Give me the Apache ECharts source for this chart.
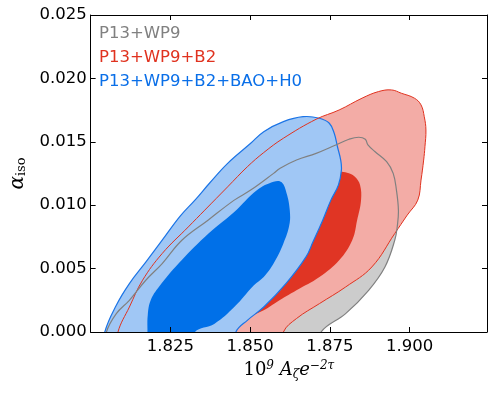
<!DOCTYPE html>
<html>
<head>
<meta charset="utf-8">
<script src="https://cdn.jsdelivr.net/npm/echarts@6/dist/echarts.min.js"></script>
<style>
html, body { margin: 0; padding: 0; background: #fff; }
#main { width: 496px; height: 396px; }
</style>
</head>
<body>
<div id="main"></div>
<script>
// contours: [1e9 A e^-2tau, alpha_iso]
var grayOuter = [[1.80496,0],[1.80805,0.00145],[1.81215,0.00250],[1.81729,0.00408],[1.82244,0.00540],[1.82861,0.00724],[1.83681,0.00882],[1.84504,0.01040],[1.85019,0.01119],[1.85737,0.01251],[1.85943,0.01291],[1.86455,0.01356],[1.87072,0.01409],[1.87688,0.01475],[1.88101,0.01520],[1.88409,0.01536],[1.88613,0.01520],[1.88696,0.01475],[1.88921,0.01422],[1.89282,0.01343],[1.89488,0.01251],[1.89590,0.01119],[1.89652,0.00961],[1.89621,0.00843],[1.89538,0.00724],[1.89229,0.00513],[1.88718,0.00329],[1.87996,0.00145],[1.87226,0]];
var redOuter = [[1.80857,0],[1.81215,0.00197],[1.81628,0.00408],[1.82244,0.00619],[1.83064,0.00829],[1.83579,0.00961],[1.84297,0.01145],[1.84914,0.01303],[1.85428,0.01415],[1.86045,0.01528],[1.87072,0.01678],[1.87793,0.01751],[1.88511,0.01844],[1.89026,0.01896],[1.89436,0.01909],[1.89744,0.01883],[1.90154,0.01844],[1.90361,0.01791],[1.90463,0.01698],[1.90515,0.01593],[1.90484,0.01461],[1.90444,0.01356],[1.90361,0.01198],[1.90259,0.01040],[1.89929,0.00922],[1.89538,0.00777],[1.88819,0.00513],[1.87996,0.00355],[1.87176,0.00224],[1.86455,0.00106],[1.86045,0]];
var redInner = [[1.84843,0.00108],[1.85428,0.00171],[1.85838,0.00237],[1.86455,0.00329],[1.87176,0.00434],[1.87793,0.00566],[1.88203,0.00724],[1.88357,0.00882],[1.88480,0.01040],[1.88449,0.01159],[1.88295,0.01222],[1.88101,0.01251],[1.87833,0.01264],[1.87586,0.01238],[1.87278,0.01040],[1.86662,0.00645],[1.85737,0.00329],[1.84966,0.00132]];
var blueOuter = [[1.80444,0],[1.80805,0.00211],[1.81215,0.00382],[1.81729,0.00551],[1.82244,0.00724],[1.82808,0.00914],[1.83271,0.01040],[1.83733,0.01175],[1.84297,0.01330],[1.85019,0.01488],[1.85428,0.01580],[1.86045,0.01659],[1.86662,0.01698],[1.87176,0.01686],[1.87485,0.01646],[1.87639,0.01567],[1.87740,0.01461],[1.87842,0.01356],[1.87864,0.01277],[1.87771,0.01159],[1.87534,0.01040],[1.87278,0.00882],[1.86970,0.00709],[1.86754,0.00592],[1.86137,0.00385],[1.85428,0.00197],[1.84914,0.00092],[1.84556,0]];
var blueInner = [[1.81782,0],[1.81791,0.00132],[1.81883,0.00250],[1.82139,0.00355],[1.82756,0.00540],[1.83579,0.00750],[1.84504,0.00946],[1.85222,0.01119],[1.85737,0.01185],[1.85983,0.01182],[1.86147,0.01093],[1.86245,0.00961],[1.86230,0.00843],[1.86045,0.00698],[1.85737,0.00540],[1.85428,0.00434],[1.85120,0.00369],[1.84504,0.00197],[1.83887,0.00066],[1.83271,0]];

var labels = ['P13+WP9', 'P13+WP9+B2', 'P13+WP9+B2+BAO+H0'];
var labelColors = ['#808080', '#e0321f', '#0a6fe8'];

var chart = echarts.init(document.getElementById('main'));

// pixel points; contours that end on the x axis get carried below it so the smoothing is clipped away
function toPixels(pts, api) {
	var out = pts.map(function (p) { return api.coord(p); });
	var a = pts[0], b = pts[pts.length - 1];
	if (a[1] === 0 && b[1] === 0) {
		out.unshift([out[0][0], out[0][1] + 15]);
		out.push([out[out.length - 1][0], out[out.length - 1][1] + 15]);
	}
	return out;
}
// filled region
function region(pts, fill, z) {
	return {
		type: 'custom', coordinateSystem: 'cartesian2d', data: pts, z: z,
		silent: true, clip: true, animation: false,
		renderItem: function (params, api) {
			if (params.dataIndex !== 0) return;
			return {
				type: 'polygon',
				shape: { points: toPixels(pts, api), smooth: 0.4 },
				style: { fill: fill }
			};
		}
	};
}
// contour line
function outline(pts, color, width, z) {
	return {
		type: 'custom', coordinateSystem: 'cartesian2d', data: pts, z: z,
		silent: true, clip: true, animation: false,
		renderItem: function (params, api) {
			if (params.dataIndex !== 0) return;
			return {
				type: 'polygon',
				shape: { points: toPixels(pts, api), smooth: 0.4 },
				style: { fill: null, stroke: color, lineWidth: width }
			};
		}
	};
}

var tickFont = { fontSize: 16.5, fontFamily: 'DejaVu Sans', color: '#000' };
var frameLine = { show: true, onZero: false, lineStyle: { color: '#000', width: 1 } };
var innerTick = { show: true, inside: true, length: 5, lineStyle: { color: '#000', width: 1 } };
var fmt = function (v) { return v.toFixed(3); };

option = {
	animation: false,
	grid: { left: 83, right: 9, top: 15, bottom: 64 },
	xAxis: [
		{
			type: 'value', position: 'bottom', min: 1.8, max: 1.9243, interval: 0.025, z: 10,
			axisLine: frameLine, axisTick: innerTick, splitLine: { show: false },
			axisLabel: Object.assign({ margin: 6, showMinLabel: false, showMaxLabel: false, formatter: fmt }, tickFont),
			name: '{n|10}{sup|9} {i|A}{sub|ζ}{i|e}{sup|−2τ}',
			nameLocation: 'middle', nameGap: 24,
			nameTextStyle: {
				color: '#000', fontFamily: 'DejaVu Serif', fontSize: 18,
				rich: {
					n: { fontFamily: 'DejaVu Serif', fontSize: 18, color: '#000' },
					i: { fontFamily: 'DejaVu Serif', fontStyle: 'italic', fontSize: 18, color: '#000' },
					sup: { fontFamily: 'DejaVu Serif', fontStyle: 'italic', fontSize: 12, color: '#000', verticalAlign: 'bottom', padding: [0, 0, 9, 0] },
					sub: { fontFamily: 'DejaVu Serif', fontStyle: 'italic', fontSize: 12, color: '#000', verticalAlign: 'top', padding: [9, 0, 0, 0] }
				}
			}
		},
		{
			type: 'value', position: 'top', min: 1.8, max: 1.9243, interval: 0.025, z: 10,
			axisLine: frameLine, axisTick: innerTick, splitLine: { show: false },
			axisLabel: { show: false }
		}
	],
	yAxis: [
		{
			type: 'value', position: 'left', min: 0, max: 0.025, interval: 0.005, z: 10,
			axisLine: frameLine, axisTick: innerTick, splitLine: { show: false },
			axisLabel: Object.assign({ margin: 4, formatter: fmt }, tickFont),
			name: '{a|α}{s|iso}',
			nameLocation: 'middle', nameGap: 54, nameRotate: 90,
			nameTextStyle: {
				color: '#000',
				rich: {
					a: { fontFamily: 'DejaVu Serif', fontStyle: 'italic', fontSize: 20, color: '#000' },
					s: { fontFamily: 'DejaVu Serif', fontSize: 13, color: '#000', verticalAlign: 'top', padding: [8, 0, 0, 0] }
				}
			}
		},
		{
			type: 'value', position: 'right', min: 0, max: 0.025, interval: 0.005, z: 10,
			axisLine: frameLine, axisTick: innerTick, splitLine: { show: false },
			axisLabel: { show: false }
		}
	],
	graphic: labels.map(function (t, i) {
		return {
			type: 'text', x: 99, y: 34 + 24 * i, z: 20,
			style: { text: t, fill: labelColors[i], fontSize: 16.5, fontFamily: 'DejaVu Sans', verticalAlign: 'middle' }
		};
	}),
	series: [
		region(grayOuter, '#cccccc', 1),
		region(redOuter, '#f3aca6', 2),
		region(redInner, '#e03524', 3),
		region(blueOuter, '#a0c7f5', 4),
		region(blueInner, '#0070e8', 5),
		outline(blueOuter, '#1b74e6', 1.2, 6),
		outline(redOuter, '#e0321f', 1, 7),
		outline(grayOuter, '#808080', 1.2, 8)
	]
};
chart.setOption(option);
</script>
</body>
</html>
